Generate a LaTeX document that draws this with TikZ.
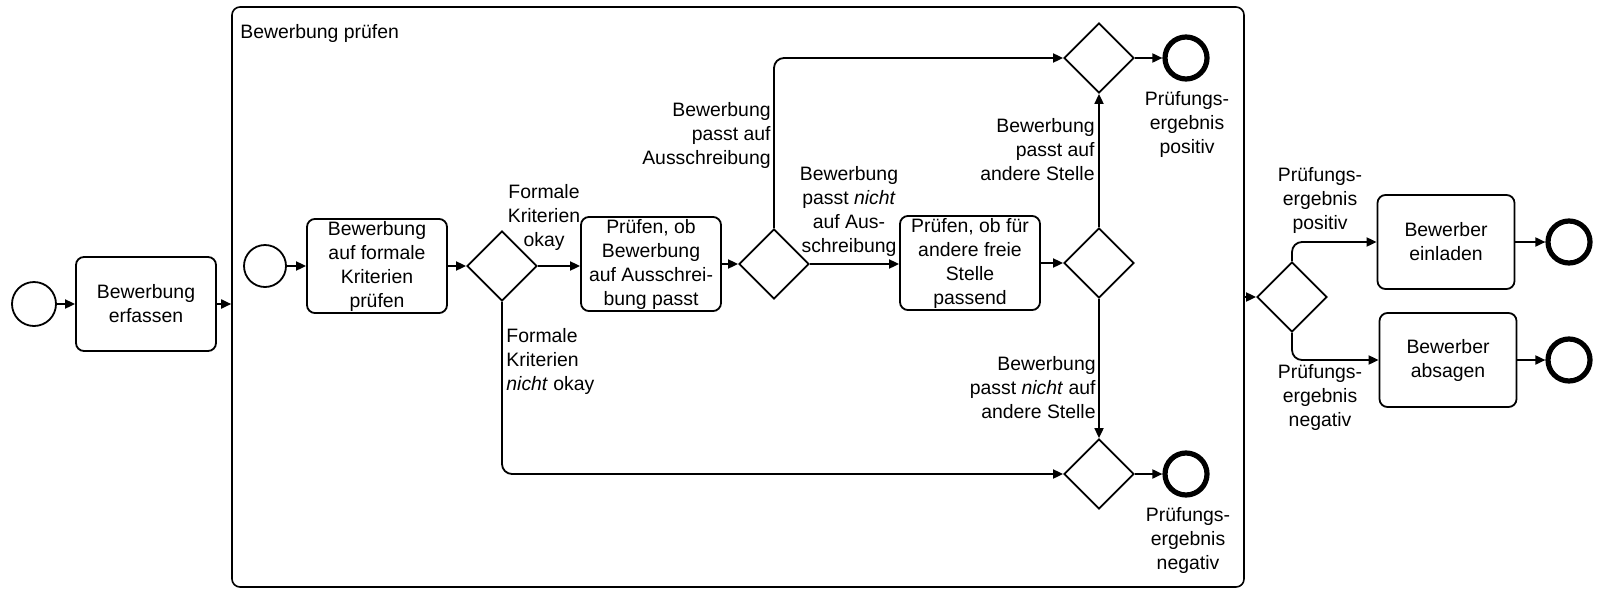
\documentclass[tikz,border=0pt]{standalone}
\usepackage{fontspec}
\setmainfont{Liberation Sans}
\usetikzlibrary{shapes.geometric,arrows.meta}

\tikzset{
  every node/.style={font=\fontsize{9.7}{12}\selectfont},
  task/.style={draw, line width=0.9pt, rounded corners=4pt, align=center,
    minimum width=70pt, minimum height=47pt, inner sep=1pt},
  gw/.style={draw, line width=0.9pt, diamond, aspect=1, inner sep=0pt,
    minimum width=35pt, minimum height=35pt},
  startev/.style={draw, circle, line width=0.9pt, inner sep=0pt, minimum size=22pt},
  endev/.style={draw, circle, line width=2.6pt, inner sep=0pt, minimum size=21pt},
  flow/.style={line width=0.9pt, rounded corners=5pt, -{Triangle[length=5pt,width=4.5pt]}},
  lbl/.style={inner sep=0pt},
  subproc/.style={draw, line width=0.8pt, rounded corners=4pt,
    minimum width=506pt, minimum height=290pt, inner sep=0pt}
}

\begin{document}
\begin{tikzpicture}[x=0.5pt, y=-0.5pt]
\useasboundingbox (0,0) rectangle (1604,589);

% outer process
\node[startev] (s0) at (34,304) {};
\node[task] (t1) at (146,304) {Bewerbung\\erfassen};

% sub-process frame
\node[subproc] (sub) at (738,297) {};
\node[lbl, anchor=west] (subtitle) at (240,33) {Bewerbung prüfen};

% sub-process contents
\node[startev, minimum size=21pt] (s1) at (265,266) {};
\node[task] (t2) at (377,266) {Bewerbung\\auf formale\\Kriterien\\prüfen};
\node[gw] (g1) at (502,266) {};
\node[task] (t3) at (651,264) {Prüfen, ob\\Bewerbung\\auf Ausschrei-\\bung passt};
\node[gw] (g2) at (774,264) {};
\node[task] (t4) at (970,263) {Prüfen, ob für\\andere freie\\Stelle\\passend};
\node[gw] (g3) at (1099,263) {};
\node[gw] (gpos) at (1099,58) {};
\node[endev] (epos) at (1186,58) {};
\node[gw] (gneg) at (1099,474) {};
\node[endev] (eneg) at (1186,474) {};

% after the sub-process
\node[gw] (g4) at (1292,297) {};
\node[task, minimum width=68.5pt] (t5) at (1446,242) {Bewerber\\einladen};
\node[task, minimum width=68.5pt] (t6) at (1448,360) {Bewerber\\absagen};
\node[endev] (e5) at (1569,242) {};
\node[endev] (e6) at (1569,360) {};

% sequence flows
\draw[flow] (s0) -- (t1);
\draw[flow] (t1.east) -- (t1.east -| sub.west);
\draw[flow] (s1) -- (s1 -| t2.west);
\draw[flow] (t2.east) -- (t2.east -| g1.west);
\draw[flow] (g1.east) -- (g1.east -| t3.west);
\draw[flow] (t3.east) -- (t3.east -| g2.west);
\draw[flow] (g2.east) -- (g2.east -| t4.west);
\draw[flow] (t4.east) -- (t4.east -| g3.west);
\draw[flow] (g2.north) |- (gpos.west);
\draw[flow] (g1.south) |- (gneg.west);
\draw[flow] (g3.north) -- (gpos.south);
\draw[flow] (g3.south) -- (gneg.north);
\draw[flow] (gpos.east) -- (epos);
\draw[flow] (gneg.east) -- (eneg);
\draw[flow] (sub.east |- g4.west) -- (g4.west);
\draw[flow] (g4.north) |- (t5.west);
\draw[flow] (g4.south) |- (t6.west);
\draw[flow] (t5.east) -- (e5);
\draw[flow] (t6.east) -- (e6);

% flow labels
\node[lbl, align=center] (l1) at (544,217) {Formale\\Kriterien\\okay};
\node[lbl, align=left, anchor=west] (l2) at (506,361) {Formale\\Kriterien\\\textit{nicht} okay};
\node[lbl, align=right, anchor=east] (l3) at (771,135) {Bewerbung\\passt auf\\Ausschreibung};
\node[lbl, align=center] (l4) at (849,211) {Bewerbung\\passt \textit{nicht}\\auf Aus-\\schreibung};
\node[lbl, align=right, anchor=east] (l5) at (1095,150) {Bewerbung\\passt auf\\andere Stelle};
\node[lbl, align=right, anchor=east] (l6) at (1096,388) {Bewerbung\\passt \textit{nicht} auf\\andere Stelle};
\node[lbl, align=center] (l7) at (1187,124) {Prüfungs-\\ergebnis\\positiv};
\node[lbl, align=center] (l8) at (1188,540) {Prüfungs-\\ergebnis\\negativ};
\node[lbl, align=center] (l9) at (1320,200) {Prüfungs-\\ergebnis\\positiv};
\node[lbl, align=center] (l10) at (1320,397) {Prüfungs-\\ergebnis\\negativ};
\end{tikzpicture}
\end{document}
